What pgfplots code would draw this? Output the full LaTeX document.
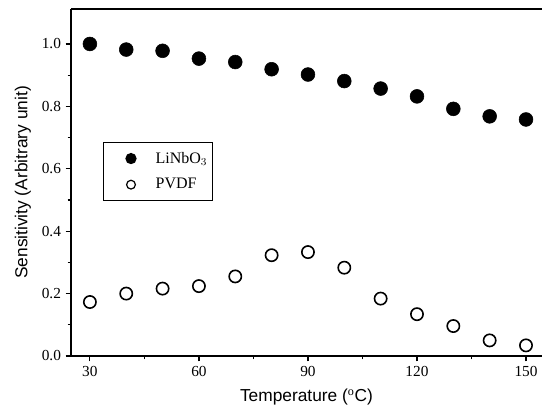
\documentclass[border=0pt]{standalone}
\usepackage{fontspec}
\setmainfont{Liberation Serif}
\newfontfamily\arial{Liberation Sans}
\usepackage{pgfplots}
\pgfplotsset{compat=1.18}

\begin{document}
\begin{tikzpicture}
\useasboundingbox (-53.25pt,-38.25pt) rectangle (353.25pt,267pt);
\begin{axis}[
  width=353.25pt, height=260.25pt, scale only axis,
  xmin=24.8, xmax=154.4, ymin=0, ymax=1.112,
  axis lines=left, axis line style={line width=1.1pt, -},
  xtick={30,60,90,120,150}, minor x tick num=1,
  ytick={0,0.2,...,1.0}, minor y tick num=1,
  tick align=outside, major tick length=4pt, minor tick length=2.5pt,
  tick style={line width=0.9pt, black},
  yticklabel style={/pgf/number format/fixed, /pgf/number format/fixed zerofill, /pgf/number format/precision=1},
  /pgf/number format/assume math mode=true,
  tick label style={font=\fontsize{11.5}{13}\selectfont},
  xlabel={\arial Temperature ($^{\mathrm{o}}$C)},
  ylabel={\arial Sensitivity (Arbitrary unit)},
  label style={font=\fontsize{13}{15}\selectfont},
  xlabel style={at={(axis description cs:0.5,0)}, anchor=center, yshift=-30.5pt},
  ylabel style={at={(axis description cs:0,0.5)}, anchor=center, yshift=36pt},
  legend style={at={(24pt,160.5pt)}, anchor=north west, draw=black, line width=1pt,
    font=\fontsize{12}{14}\selectfont, inner xsep=2pt, inner ysep=5pt, row sep=6pt,
    /tikz/every even column/.append style={column sep=0pt}},
  legend cell align=left,
  clip=false,
]
\addplot[only marks, mark=*, mark size=5.2pt, mark options={fill=black, draw=black},
  legend image code/.code={\path[draw=none] (0,0) (35pt,0); \fill[black] (18.5pt,0) circle (3.7pt);}]
  coordinates {(30,1.000) (40,0.982) (50,0.978) (60,0.953) (70,0.942) (80,0.919)
               (90,0.902) (100,0.881) (110,0.857) (120,0.832) (130,0.792) (140,0.768) (150,0.758)};
\addlegendentry{LiNbO$_3$\hspace{7pt}}
\addplot[only marks, mark=o, mark size=4.6pt, mark options={draw=black, line width=1.2pt},
  legend image code/.code={\path[draw=none] (0,0) (35pt,0); \draw[black, line width=0.9pt] (18.5pt,0) circle (3.3pt);}]
  coordinates {(30,0.173) (40,0.200) (50,0.216) (60,0.224) (70,0.255) (80,0.323)
               (90,0.333) (100,0.283) (110,0.184) (120,0.134) (130,0.096) (140,0.050) (150,0.034)};
\addlegendentry{PVDF}
\draw[line width=1.1pt] (rel axis cs:0,1) -- (rel axis cs:1,1);
\end{axis}
\end{tikzpicture}
\end{document}
